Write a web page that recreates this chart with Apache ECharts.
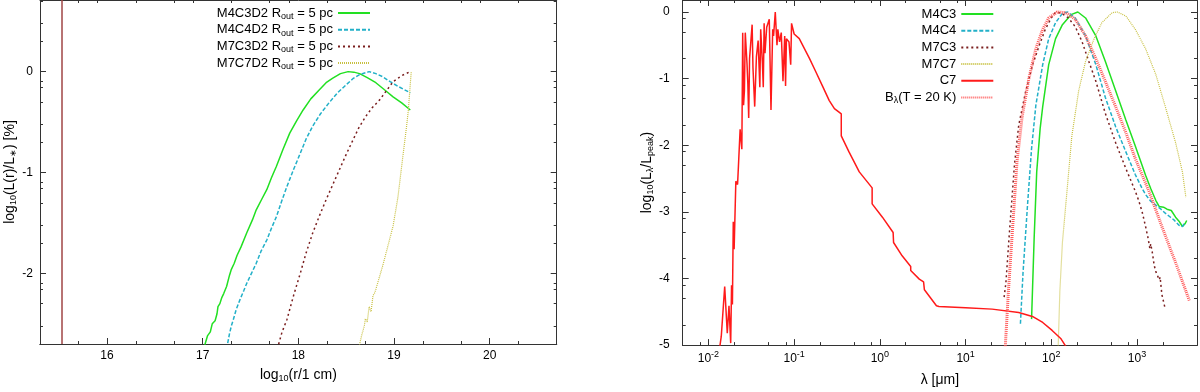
<!DOCTYPE html>
<html>
<head>
<meta charset="utf-8">
<script src="https://cdn.jsdelivr.net/npm/echarts@6/dist/echarts.min.js"></script>
<style>
html, body { margin: 0; padding: 0; background: #fff; }
#chart { width: 1200px; height: 392px; }
</style>
</head>
<body>
<div id="chart"></div>
<script>
// left panel: x = log10(r / 1 cm), y = log10(L(r)/L*)
var leftNames = ['M4C3D2', 'M4C4D2', 'M7C3D2', 'M7C7D2'];
var innerRadius = 15.53;
var m4c3d2 = [[17.01,-2.75],[17.05,-2.62],[17.08,-2.58],[17.10,-2.50],[17.13,-2.47],[17.15,-2.40],[17.16,-2.33],[17.18,-2.30],
    [17.20,-2.24],[17.22,-2.20],[17.25,-2.13],[17.28,-2.02],[17.30,-1.96],[17.33,-1.90],[17.36,-1.82],[17.40,-1.74],[17.46,-1.60],
    [17.52,-1.47],[17.56,-1.37],[17.62,-1.26],[17.67,-1.17],[17.72,-1.05],[17.77,-0.94],[17.84,-0.77],[17.91,-0.61],[17.98,-0.49],
    [18.05,-0.38],[18.13,-0.27],[18.22,-0.18],[18.29,-0.11],[18.36,-0.065],[18.44,-0.02],[18.52,0],[18.58,-0.005],[18.64,-0.02],
    [18.72,-0.06],[18.81,-0.11],[18.90,-0.18],[18.99,-0.25],[19.08,-0.31],[19.17,-0.38]];
var m4c4d2 = [[17.25,-2.75],[17.28,-2.60],[17.30,-2.52],[17.32,-2.46],[17.35,-2.36],[17.39,-2.26],[17.43,-2.17],[17.46,-2.10],
    [17.51,-2.00],[17.56,-1.90],[17.61,-1.78],[17.67,-1.67],[17.72,-1.55],[17.77,-1.44],[17.82,-1.30],[17.88,-1.14],[17.95,-0.97],
    [18.02,-0.81],[18.08,-0.67],[18.15,-0.54],[18.23,-0.42],[18.32,-0.31],[18.41,-0.21],[18.50,-0.13],[18.57,-0.07],[18.64,-0.03],
    [18.74,0],[18.81,-0.02],[18.88,-0.05],[18.96,-0.10],[19.05,-0.15],[19.17,-0.21]];
var m7c3d2 = [[17.78,-2.75],[17.83,-2.58],[17.88,-2.46],[17.95,-2.22],[18.02,-2.00],[18.08,-1.80],[18.15,-1.60],[18.22,-1.43],
    [18.29,-1.27],[18.36,-1.12],[18.43,-0.97],[18.50,-0.82],[18.57,-0.68],[18.63,-0.56],[18.70,-0.45],[18.77,-0.36],[18.85,-0.28],
    [18.92,-0.19],[18.99,-0.10],[19.08,-0.04],[19.17,0]];
var m7c7d2 = [[18.63,-2.75],[18.66,-2.62],[18.69,-2.52],[18.70,-2.45],[18.72,-2.48],[18.74,-2.33],[18.76,-2.38],[18.78,-2.22],
    [18.80,-2.19],[18.84,-2.06],[18.88,-1.93],[18.93,-1.75],[18.99,-1.53],[19.04,-1.25],[19.10,-0.78],[19.13,-0.55],[19.15,-0.38],
    [19.17,-0.12],[19.18,0]];

// right panel: x = log10(lambda / 1 micron), y = log10(L_lambda / L_peak)
var rightNames = ['M4C3', 'M4C4', 'M7C3', 'M7C7', 'C7', 'Bλ(T = 20 K)'];
var m4c3 = [[1.77,-4.61],[1.80,-3.40],[1.83,-2.40],[1.87,-1.75],[1.90,-1.42],[1.97,-0.79],[2.05,-0.40],[2.13,-0.19],[2.23,-0.04],
    [2.31,0],[2.40,-0.09],[2.52,-0.36],[2.63,-0.74],[2.75,-1.18],[2.87,-1.62],[2.98,-2.01],[3.10,-2.45],[3.16,-2.65],[3.22,-2.83],
    [3.26,-2.92],[3.31,-2.93],[3.35,-2.96],[3.37,-2.93],[3.40,-2.98],[3.45,-3.08],[3.49,-3.14],[3.53,-3.22],[3.56,-3.18],[3.58,-3.13]];
var m4c4 = [[1.64,-4.68],[1.67,-3.92],[1.72,-2.95],[1.77,-2.05],[1.82,-1.40],[1.90,-0.79],[1.97,-0.40],[2.05,-0.16],[2.13,-0.02],
    [2.19,0],[2.28,-0.09],[2.40,-0.36],[2.52,-0.79],[2.63,-1.28],[2.75,-1.72],[2.87,-2.10],[2.98,-2.44],[3.06,-2.65],[3.10,-2.74],
    [3.16,-2.84],[3.22,-2.90],[3.28,-2.96],[3.33,-3.02],[3.38,-3.07],[3.43,-3.12],[3.49,-3.20],[3.53,-3.22],[3.55,-3.18],[3.57,-3.17]];
var m7c3 = [[1.45,-4.28],[1.47,-4.07],[1.51,-3.34],[1.57,-2.30],[1.62,-1.70],[1.70,-1.20],[1.78,-0.80],[1.86,-0.50],[1.93,-0.26],
    [2.00,-0.09],[2.05,0],[2.12,-0.02],[2.20,-0.09],[2.28,-0.22],[2.36,-0.45],[2.44,-0.75],[2.52,-1.04],[2.63,-1.52],[2.75,-1.96],
    [2.87,-2.35],[2.98,-2.69],[3.02,-2.83],[3.06,-3.00],[3.10,-3.22],[3.13,-3.40],[3.15,-3.55],[3.16,-3.48],[3.18,-3.62],
    [3.20,-3.80],[3.22,-3.90],[3.24,-3.93],[3.26,-4.02],[3.27,-3.98],[3.29,-4.24],[3.31,-4.35],[3.33,-4.46]];
var m7c7 = [[2.08,-5.05],[2.10,-4.19],[2.13,-3.46],[2.19,-2.59],[2.24,-1.86],[2.32,-1.18],[2.40,-0.74],[2.50,-0.40],[2.59,-0.16],
    [2.71,-0.01],[2.77,0],[2.87,-0.06],[2.98,-0.26],[3.10,-0.55],[3.22,-0.94],[3.33,-1.42],[3.45,-1.96],[3.53,-2.40],[3.57,-2.78]];
var c7 = [[-1.87,-5.05],[-1.85,-4.87],[-1.81,-4.12],[-1.78,-4.82],[-1.76,-4.41],[-1.74,-4.97],[-1.73,-4.10],[-1.72,-4.39],
    [-1.71,-3.15],[-1.70,-3.56],[-1.68,-2.54],[-1.66,-2.59],[-1.65,-2.32],[-1.63,-1.76],[-1.61,-2.06],[-1.60,-0.31],[-1.59,-1.40],
    [-1.58,-1.18],[-1.57,-0.31],[-1.55,-0.77],[-1.54,-1.08],[-1.53,-1.59],[-1.52,-0.70],[-1.49,-0.19],[-1.48,-0.84],[-1.46,-1.42],
    [-1.44,-0.67],[-1.42,-0.43],[-1.40,-1.13],[-1.39,-0.26],[-1.37,-0.77],[-1.36,-1.13],[-1.35,-0.17],[-1.34,-0.62],[-1.32,-0.23],
    [-1.31,-0.26],[-1.29,-0.11],[-1.27,-1.47],[-1.25,-0.26],[-1.24,-0.36],[-1.22,0],[-1.20,-0.50],[-1.19,-0.26],[-1.17,-0.45],
    [-1.15,-0.31],[-1.13,-1.04],[-1.11,-0.36],[-1.10,-1.11],[-1.09,-0.40],[-1.06,-0.45],[-1.04,-0.79],[-1.03,-0.17],[-1.00,-0.33],
    [-0.98,-0.31],[-0.94,-0.40],[-0.88,-0.55],[-0.82,-0.70],[-0.75,-0.89],[-0.67,-1.11],[-0.59,-1.33],[-0.53,-1.45],[-0.48,-1.50],
    [-0.45,-1.53],[-0.45,-1.86],[-0.36,-2.10],[-0.24,-2.40],[-0.09,-2.64],[-0.09,-2.88],[0.03,-3.08],[0.155,-3.31],[0.16,-3.46],
    [0.26,-3.66],[0.36,-3.82],[0.36,-3.88],[0.46,-4.01],[0.51,-4.05],[0.52,-4.17],[0.59,-4.29],[0.66,-4.41],[0.69,-4.42],
    [1.00,-4.44],[1.31,-4.46],[1.62,-4.51],[1.78,-4.57],[1.90,-4.66],[2.01,-4.78],[2.11,-4.90],[2.17,-5.02]];
var bb20 = [[1.46,-5.10],[1.50,-4.19],[1.55,-3.22],[1.60,-2.25],[1.66,-1.57],[1.74,-0.99],[1.82,-0.55],[1.90,-0.26],[1.97,-0.09],
    [2.07,0],[2.17,-0.01],[2.28,-0.11],[2.40,-0.36],[2.52,-0.70],[2.63,-1.04],[2.75,-1.42],[2.87,-1.81],[2.98,-2.20],[3.14,-2.69],
    [3.29,-3.22],[3.45,-3.76],[3.61,-4.33]];

// tick labels
var leftXTicks = [16, 17, 18, 19, 20];
var leftYTicks = [-2, -1, 0];
var rightXTicks = [-2, -1, 0, 1, 2, 3];
var rightYTicks = [-5, -4, -3, -2, -1, 0];

var font = 'Liberation Sans, Arial, Helvetica, sans-serif';
var ink = '#333';

function minorTicks(from, to, offsets) {
    var out = [];
    for (var n = Math.floor(from) - 1; n <= to; n++) {
        offsets.forEach(function (o) {
            var v = n + o;
            if (v > from && v < to) out.push(+v.toFixed(3));
        });
    }
    return out;
}

function axis(grid, min, max, pos, ticks, len, label, name) {
    var a = {
        type: 'value', gridIndex: grid, min: min, max: max, position: pos,
        axisLine: { show: true, onZero: false, lineStyle: { color: ink, width: 1 } },
        splitLine: { show: false },
        axisTick: { show: true, inside: true, length: len, customValues: ticks, lineStyle: { color: ink, width: 1 } },
        axisLabel: label || { show: false }
    };
    if (name) {
        for (var k in name) a[k] = name[k];
    }
    return a;
}

var subRich = { fontFamily: font, fontSize: 9, lineHeight: 9, verticalAlign: 'bottom', color: '#000' };
var supRich = { fontFamily: font, fontSize: 9, lineHeight: 9, verticalAlign: 'top', color: '#000' };

var L = { x0: 15.3, x1: 20.7, y0: -2.7, y1: 0.71 };
var R = { x0: -2.3, x1: 3.7, y0: -5, y1: 0.18 };

var xAxes = [
    axis(0, L.x0, L.x1, 'bottom', leftXTicks, 6,
        { show: true, customValues: leftXTicks, margin: 6, fontFamily: font, fontSize: 12, color: '#000' },
        { name: 'log{sub|10}(r/1 cm)', nameLocation: 'middle', nameGap: 19,
          nameTextStyle: { fontFamily: font, fontSize: 14, lineHeight: 16, color: '#000', rich: { sub: subRich } } }),
    axis(0, L.x0, L.x1, 'bottom', minorTicks(L.x0, L.x1, [0.301, 0.699]), 3),
    axis(0, L.x0, L.x1, 'top', minorTicks(L.x0, L.x1, [0.301, 0.699, 0.903]), 3),
    axis(1, R.x0, R.x1, 'bottom', rightXTicks, 6,
        { show: true, customValues: rightXTicks, margin: 5, fontFamily: font, fontSize: 12, lineHeight: 18, color: '#000',
          formatter: function (v) { return '10{sup|' + v + '}'; }, rich: { sup: supRich } },
        { name: 'λ [μm]', nameLocation: 'middle', nameGap: 22,
          nameTextStyle: { fontFamily: font, fontSize: 14, color: '#000' } }),
    axis(1, R.x0, R.x1, 'bottom', minorTicks(R.x0, R.x1, [0.301, 0.699, 0.903]), 3),
    axis(1, R.x0, R.x1, 'top', rightXTicks, 6),
    axis(1, R.x0, R.x1, 'top', minorTicks(R.x0, R.x1, [0.301, 0.699, 0.903]), 3)
];
var yAxes = [
    axis(0, L.y0, L.y1, 'left', leftYTicks, 6,
        { show: true, customValues: leftYTicks, margin: 7, fontFamily: font, fontSize: 12, color: '#000' },
        { name: 'log{sub|10}(L(r)/L{sub|∗}) [%]', nameLocation: 'middle', nameGap: 20, nameRotate: 90,
          nameTextStyle: { fontFamily: font, fontSize: 14, lineHeight: 16, color: '#000', rich: { sub: subRich } } }),
    axis(0, L.y0, L.y1, 'left', minorTicks(L.y0, L.y1, [0.301, 0.477, 0.699, 0.845, 0.903]), 3),
    axis(0, L.y0, L.y1, 'right', leftYTicks, 6),
    axis(0, L.y0, L.y1, 'right', minorTicks(L.y0, L.y1, [0.301, 0.477, 0.699, 0.845, 0.903]), 3),
    axis(1, R.y0, R.y1, 'left', rightYTicks, 6,
        { show: true, customValues: rightYTicks, margin: 13, fontFamily: font, fontSize: 12, color: '#000' },
        { name: 'log{sub|10}(L{sub|λ}/L{sub|peak})', nameLocation: 'middle', nameGap: 26, nameRotate: 90,
          nameTextStyle: { fontFamily: font, fontSize: 14, lineHeight: 16, color: '#000', rich: { sub: subRich } } }),
    axis(1, R.y0, R.y1, 'left', minorTicks(R.y0, R.y1, [0.301, 0.699, 0.903]), 3),
    axis(1, R.y0, R.y1, 'right', rightYTicks, 6),
    axis(1, R.y0, R.y1, 'right', minorTicks(R.y0, R.y1, [0.301, 0.699, 0.903]), 3)
];

function line(name, data, xi, yi, color, width, type) {
    return {
        name: name, type: 'line', data: data, xAxisIndex: xi, yAxisIndex: yi,
        symbol: 'none', showSymbol: false, smooth: false, clip: true,
        lineStyle: { color: color, width: width, type: type || 'solid' },
        itemStyle: { color: color },
        emphasis: { disabled: true }
    };
}

var cGreen = '#22e022', cCyan = '#22b0c8', cDark = '#7a1e1e', cOlive = '#c8c040', cRed = '#ff1a1a', cBB = '#ff5a5a';

var series = [
    line('inner', [[innerRadius, L.y0], [innerRadius, L.y1]], 0, 0, '#a04545', 1.5),
    line(leftNames[0], m4c3d2, 0, 0, cGreen, 1.5),
    line(leftNames[1], m4c4d2, 0, 0, cCyan, 1.5, [4, 2]),
    line(leftNames[2], m7c3d2, 0, 0, cDark, 1.5, [2, 3]),
    line(leftNames[3], m7c7d2, 0, 0, cOlive, 1.2, [1, 1]),
    line(rightNames[0], m4c3, 3, 4, cGreen, 1.5),
    line(rightNames[1], m4c4, 3, 4, cCyan, 1.5, [4, 2]),
    line(rightNames[2], m7c3, 3, 4, cDark, 1.5, [2, 3]),
    line(rightNames[3], m7c7, 3, 4, cOlive, 1.2, [1, 1]),
    line(rightNames[4], c7, 3, 4, cRed, 1.5),
    line(rightNames[5], bb20, 3, 4, cBB, 3, [1, 1])
];

var legendText = {
    'Bλ(T = 20 K)': 'B{sub|λ}(T = 20 K)'
};

function legend(names, right, top, fmt) {
    return {
        data: names, orient: 'vertical', align: 'right', right: right, top: top,
        padding: 0, itemGap: 0.7, itemWidth: 32, itemHeight: 14,
        selectedMode: false,
        itemStyle: { opacity: 0 },
        textStyle: { fontFamily: font, fontSize: 13, lineHeight: 16, color: '#000', rich: { sub: subRich } },
        formatter: fmt
    };
}

var chart = echarts.init(document.getElementById('chart'), null, { renderer: 'canvas' });
chart.setOption({
    animation: false,
    backgroundColor: '#fff',
    grid: [
        { left: 40, top: 0, width: 516.7, height: 344 },
        { left: 682.7, top: 0, width: 514.3, height: 355 }
    ],
    xAxis: xAxes,
    yAxis: yAxes,
    legend: [
        legend(leftNames, 829, 5, function (n) { return n + ' R{sub|out} = 5 pc'; }),
        legend(rightNames, 205.7, 6, function (n) { return legendText[n] || n; })
    ],
    series: series
});
</script>
</body>
</html>
